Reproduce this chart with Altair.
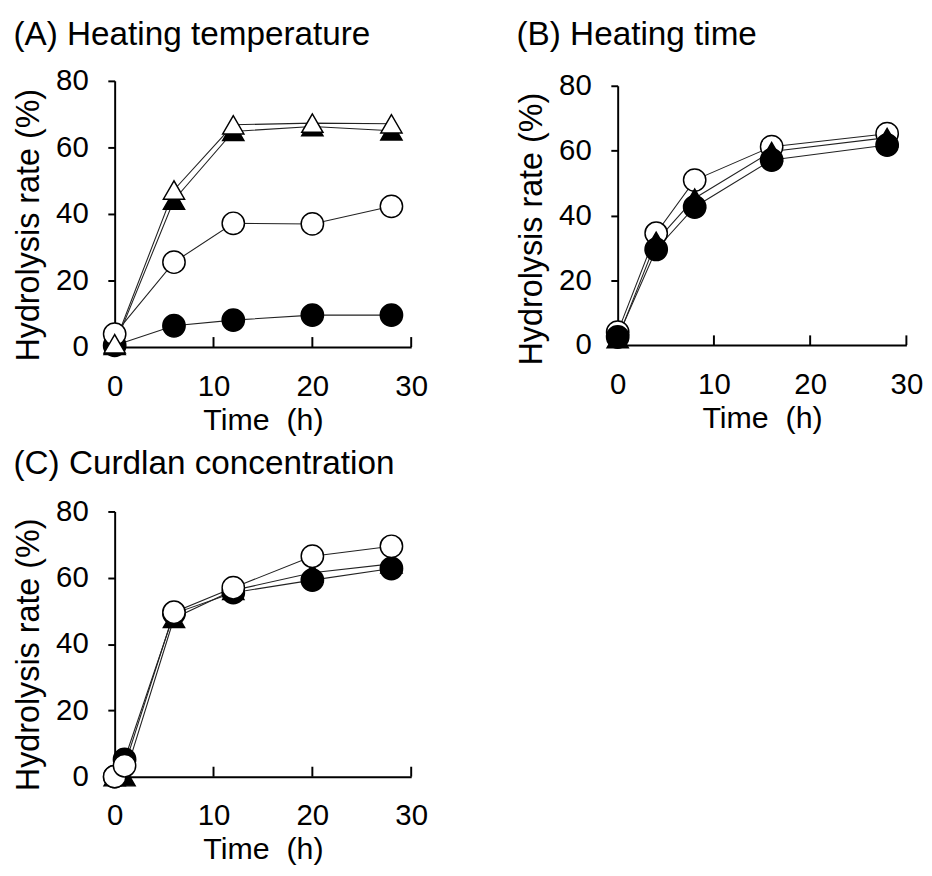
import altair as alt
import pandas as pd

# ---------------- data ----------------
# (A) Heating temperature
a_time = [0, 6, 12, 20, 28]
a_filled_circle = [0.5, 6.4, 8.1, 9.6, 9.6]
a_open_circle = [3.9, 25.5, 37.2, 37.0, 42.3]
a_filled_triangle = [0.5, 44.2, 64.8, 66.3, 65.0]
a_open_triangle = [1.0, 47.2, 66.8, 67.3, 67.1]

# (B) Heating time
b_time = [0, 4, 8, 16, 28]
b_open_circle = [4.0, 34.5, 50.9, 61.2, 65.2]
b_filled_circle = [2.5, 29.5, 42.6, 57.1, 61.7]
b_filled_triangle = [2.0, 32.0, 45.3, 59.7, 64.0]

# (C) Curdlan concentration
c_time = [0, 1, 6, 12, 20, 28]
c_filled_triangle = [0.0, 0.0, 47.8, 56.2, 61.5, 64.2]
c_filled_circle = [0.0, 5.2, 49.2, 55.5, 59.3, 62.8]
c_open_circle = [0.0, 3.3, 49.6, 57.0, 66.5, 69.5]

x_ticks = [0, 10, 20, 30]
y_ticks = [0, 20, 40, 60, 80]

FONT = "Liberation Sans"


def panel(title, series, width, height, title_offset, top_gap, title_y):
    rows = []
    for order, (name, times, values, shape, filled) in enumerate(series):
        for t, v in zip(times, values):
            rows.append({
                "series": name, "t": t, "v": v,
                "shape": shape,
                "fill": "black" if filled else "white",
                "size": 470 if shape == "triangle-up" else 520,
                "order": order,
            })
    df = pd.DataFrame(rows)
    xs = alt.Scale(domain=[0, 30], nice=False)
    if top_gap:
        ys = alt.Scale(domain=[0, 80], nice=False, range=[height, top_gap])
    else:
        ys = alt.Scale(domain=[0, 80], nice=False)

    x_enc = alt.X("t:Q", scale=xs, title="Time\u00a0 (h)",
                  axis=alt.Axis(values=x_ticks, ticks=False, tickSize=0,
                                labelFlush=False, labelPadding=25, grid=False,
                                titlePadding=5))
    y_enc = alt.Y("v:Q", scale=ys, title="Hydrolysis rate (%)",
                  axis=alt.Axis(values=y_ticks, tickSize=7, labelPadding=20,
                                labelFlush=False, grid=False, titlePadding=10,
                                titleY=title_y))

    lines = alt.Chart(df).mark_line(color="#222222", strokeWidth=1.1).encode(
        x=x_enc, y=y_enc, detail="series:N", order="t:Q"
    )
    tick_df = pd.DataFrame({"t": x_ticks})
    inner_ticks = alt.Chart(tick_df).mark_rule(color="black", strokeWidth=2).encode(
        x=x_enc,
        y=alt.datum(0, scale=ys),
        y2=alt.datum(3.0),
    )
    points = alt.Chart(df).mark_point(filled=False, opacity=1, stroke="black",
                                      strokeWidth=1.5).encode(
        x=x_enc,
        y=y_enc,
        shape=alt.Shape("shape:N", scale=None),
        fill=alt.Fill("fill:N", scale=None),
        size=alt.Size("size:Q", scale=None),
        order=alt.Order("order:Q"),
    )
    return alt.layer(lines, inner_ticks, points).properties(
        width=width, height=height,
        title=alt.TitleParams(title, anchor="start", frame="bounds", fontSize=34,
                              font=FONT, fontWeight="normal", color="black",
                              offset=title_offset, dy=-7),
    )


pa = panel("(A) Heating temperature", [
    ("fc", a_time, a_filled_circle, "circle", True),
    ("oc", a_time, a_open_circle, "circle", False),
    ("ft", a_time, a_filled_triangle, "triangle-up", True),
    ("ot", a_time, a_open_triangle, "triangle-up", False),
], 303, 272, 8, 0, 147)

pb = panel("(B) Heating time", [
    ("oc", b_time, b_open_circle, "circle", False),
    ("fc", b_time, b_filled_circle, "circle", True),
    ("ft", b_time, b_filled_triangle, "triangle-up", True),
], 295, 270, 13, 5, 151)

pc = panel("(C) Curdlan concentration", [
    ("ft", c_time, c_filled_triangle, "triangle-up", True),
    ("fc", c_time, c_filled_circle, "circle", True),
    ("oc", c_time, c_open_circle, "circle", False),
], 303, 271, 9, 0, 146)

chart = alt.vconcat(
    alt.hconcat(pa, pb, spacing=211, bounds="flush"),
    pc,
    spacing=11,
).configure_view(stroke="transparent").configure_axis(
    labelFont=FONT, titleFont=FONT, labelFontSize=30, titleFontSize=32,
    titleFontWeight="normal", labelColor="black", titleColor="black",
    domainColor="black", domainWidth=2, tickColor="black", tickWidth=2,
).configure_axisY(titleFontSize=33).configure_axisX(titleFontSize=31).properties(
    padding={"left": 5, "top": 0, "right": 0, "bottom": 0}, background="white"
)

chart.save("out.html", embed_options={"renderer": "svg", "actions": False})
